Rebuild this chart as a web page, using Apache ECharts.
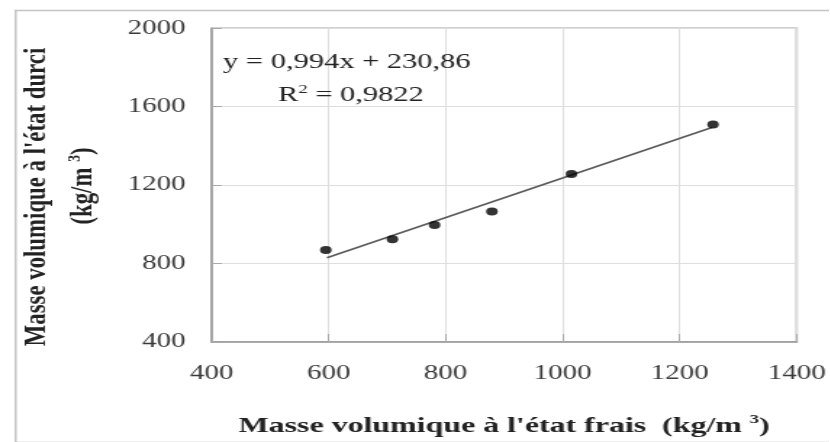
<!DOCTYPE html>
<html>
<head>
<meta charset="utf-8">
<script src="https://cdn.jsdelivr.net/npm/echarts@6/dist/echarts.min.js"></script>
<style>
html,body{margin:0;padding:0;background:#fff;overflow:hidden;width:830px;height:442px;}
#wrap{position:absolute;left:0;top:0;height:442px;transform-origin:0 0;}
</style>
</head>
<body>
<div id="wrap"></div>
<script>
// ---- data ----
const freshDensity = [595, 709, 781, 879, 1015, 1257];      // x : état frais (kg/m3)
const hardenedDensity = [869, 924, 997, 1065, 1257, 1509];  // y : état durci (kg/m3)
const trendX = [597, 1255];
const trendY = [830, 1494];
const equationText = 'y = 0,994x + 230,86';
const r2Label = '0,9822';
const xTitle = "Masse volumique à l'état frais  (kg/m ";
const yTitle1 = "Masse volumique à l'état durci";
const yTitle2 = "(kg/m ";

// ---- horizontal stretch of the reference picture ----
const S = 1.45;
const W = 830 / S;
const wrap = document.getElementById('wrap');
wrap.style.width = W + 'px';
wrap.style.transform = 'scaleX(' + S + ')';

const chart = echarts.init(wrap, null, {renderer: 'canvas', width: W, height: 442});

const serif = 'Liberation Serif, Times New Roman, serif';
const scatterData = freshDensity.map((x, i) => [x, hardenedDensity[i]]);
const trendData = trendX.map((x, i) => [x, trendY[i]]);
const plain = v => String(v);

const option = {
  animation: false,
  backgroundColor: '#ffffff',
  grid: {
    left: 211.7 / S,
    right: W - 798.5 / S,
    top: 28.3,
    bottom: 442 - 345.7,
    show: true,
    borderColor: '#a4a4a4',
    borderWidth: 1.5,
    backgroundColor: 'transparent'
  },
  xAxis: {
    type: 'value',
    min: 400, max: 1400, interval: 200,
    axisLine: {show: true, lineStyle: {color: '#9a9a9a', width: 1.5}},
    axisTick: {show: true, inside: true, length: 8, lineStyle: {color: '#aaa'}},
    splitLine: {show: true, lineStyle: {color: '#dedede', width: 1}},
    axisLabel: {fontFamily: serif, fontSize: 20, color: '#3a3a3a', margin: 22, formatter: plain},
    name: '{t|' + xTitle + '}{s|3}{t|)}',
    nameLocation: 'middle',
    nameGap: 71,
    nameTextStyle: {
      rich: {
        t: {fontFamily: serif, fontSize: 22, fontWeight: 'bold', color: '#222', lineHeight: 26},
        s: {fontFamily: serif, fontSize: 13, fontWeight: 'bold', color: '#222', verticalAlign: 'top', lineHeight: 26}
      }
    }
  },
  yAxis: {
    type: 'value',
    min: 400, max: 2000, interval: 400,
    axisLine: {show: true, lineStyle: {color: '#9a9a9a', width: 1.5}},
    axisTick: {show: true, inside: true, length: 7, lineStyle: {color: '#aaa'}},
    splitLine: {show: true, lineStyle: {color: '#dedede', width: 1}},
    axisLabel: {fontFamily: serif, fontSize: 20, color: '#3a3a3a', margin: 18, formatter: plain}
  },
  series: [
    {
      type: 'line',
      data: trendData,
      symbol: 'none',
      lineStyle: {color: '#5a5a5a', width: 1.6},
      z: 2
    },
    {
      type: 'scatter',
      data: scatterData,
      symbol: 'circle',
      symbolSize: 8,
      itemStyle: {color: '#000'},
      z: 3
    }
  ],
  graphic: [
    {
      type: 'rect',
      left: 12 / S, top: 8,
      shape: {width: 816 / S, height: 432},
      style: {fill: 'none', stroke: '#c4c4c4', lineWidth: 1.5},
      silent: true, z: -10
    },
    {
      type: 'text',
      x: 223 / S, y: 62.5,
      style: {
        text: equationText,
        font: '21px ' + serif,
        fill: '#222',
        verticalAlign: 'middle'
      },
      z: 10
    },
    {
      type: 'text',
      x: 278 / S, y: 95,
      style: {
        text: '{a|R}{s|2}{a| = ' + r2Label + '}',
        verticalAlign: 'middle',
        rich: {
          a: {fontFamily: serif, fontSize: 21, fill: '#222', color: '#222', lineHeight: 24},
          s: {fontFamily: serif, fontSize: 13, fill: '#222', color: '#222', verticalAlign: 'top', lineHeight: 24}
        }
      },
      z: 10
    },
    {
      type: 'text',
      x: 37.5 / S, y: 197,
      rotation: Math.PI / 2,
      scaleX: 1.14,
      style: {
        text: yTitle1,
        font: 'bold 20px ' + serif,
        fill: '#222',
        align: 'center',
        verticalAlign: 'middle'
      },
      z: 10
    },
    {
      type: 'text',
      x: 84 / S, y: 186,
      rotation: Math.PI / 2,
      scaleX: 1.14,
      style: {
        text: '{t|' + yTitle2 + '}{s|3}{t|)}',
        align: 'center',
        verticalAlign: 'middle',
        rich: {
          t: {fontFamily: serif, fontSize: 20, fontWeight: 'bold', fill: '#222', color: '#222', lineHeight: 24},
          s: {fontFamily: serif, fontSize: 12, fontWeight: 'bold', fill: '#222', color: '#222', verticalAlign: 'top', lineHeight: 24}
        }
      },
      z: 10
    }
  ]
};
chart.setOption(option);
</script>
</body>
</html>
